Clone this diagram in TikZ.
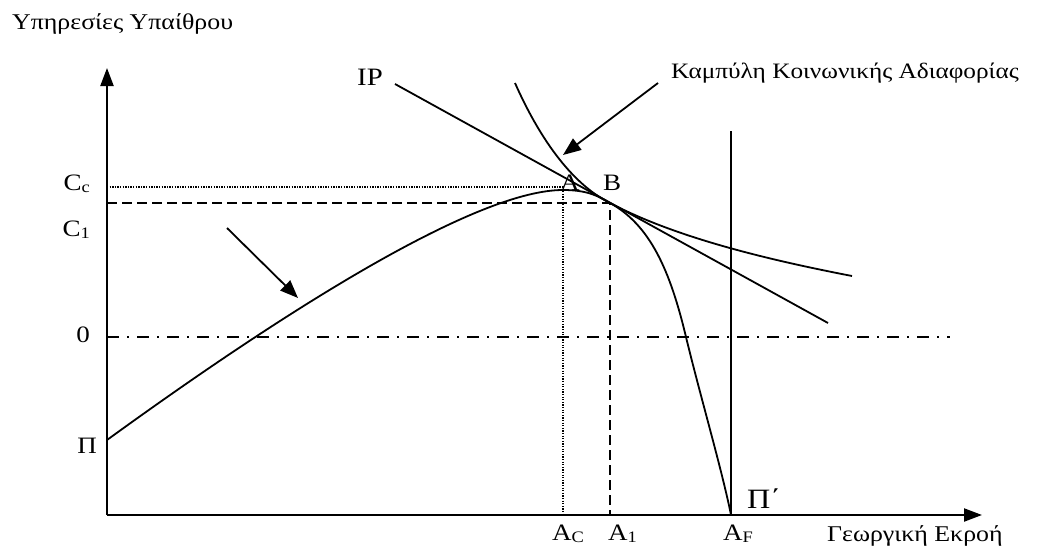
\documentclass[tikz,border=0pt]{standalone}
\usepackage{fontspec}
\setmainfont{Liberation Serif}[FakeStretch=1.15]
\usetikzlibrary{arrows.meta}
\newcommand{\sbs}[1]{\raisebox{-0.12em}{\fontsize{16}{16}\selectfont #1}}
\begin{document}
\begin{tikzpicture}[x=1pt,y=-1pt,
  curve/.style={line width=1.8pt},
  axis/.style={line width=2.2pt,-{Triangle[length=18pt,width=13pt]}},
  pointer/.style={line width=1.8pt,-{Triangle[length=18pt,width=14pt]}},
  lbl/.style={inner sep=0pt,font=\fontsize{23.5}{27}\selectfont},
  big/.style={inner sep=0pt,font=\fontsize{22.5}{26}\selectfont},
  dashdot/.style={line width=1.5pt,dash pattern=on 12pt off 8pt on 2pt off 8pt},
  dashln/.style={line width=1.6pt,dash pattern=on 10pt off 5pt},
  dotln/.style={line width=1.3pt,dash pattern=on 1.3pt off 1.3pt}]
\useasboundingbox (0,0) rectangle (1047,546);

% key points
\coordinate (O) at (107,515);
\coordinate (ytip) at (107,68);
\coordinate (xtip) at (982,515);
\coordinate (Pi) at (107,440);
\coordinate (Apt) at (563,190);
\coordinate (Bpt) at (610,203);
\coordinate (Zc) at (686,337);
\coordinate (AF) at (731,515);

% axes
\draw[axis] (O) -- (ytip);
\draw[axis] (O) -- (xtip);

% reference lines
\draw[dotln] (107,187) -- (563,187) -- (563,515);
\draw[dashln] (107,203) -- (Bpt) -- (610,515);
\draw[dashdot] (107,337) -- (950,337);

% vertical line at A_F
\draw[curve] (731,131) -- (AF);

% production possibility curve
\draw[curve] (Pi) .. controls (300,300) and (480,190) .. (Apt)
  .. controls (590,190) and (600,197.5) .. (Bpt)
  .. controls (650,225) and (670,270) .. (Zc)
  .. controls (700,395) and (722,470) .. (AF);

% IP line
\coordinate (IPs) at (395,84);
\coordinate (IPe) at (828,323);
\draw[curve] (IPs) -- (IPe);

% social indifference curve
\coordinate (ICs) at (515,83);
\coordinate (ICe) at (852,276);
\draw[curve] (ICs) .. controls (538,135) and (570,183) .. (Bpt)
  .. controls (680,240) and (780,262) .. (ICe);

% pointers
\coordinate (p1s) at (658,83);
\coordinate (p1e) at (563,155);
\draw[pointer] (p1s) -- (p1e);
\coordinate (p2s) at (227,228);
\coordinate (p2e) at (298,298);
\draw[pointer] (p2s) -- (p2e);

% texts
\node[big,anchor=base west] (ylab) at (12,29) {Υπηρεσίες Υπαίθρου};
\node[lbl,anchor=base west,font=\fontsize{25}{29}\selectfont] (iplab) at (357,85) {IP};
\node[big,anchor=base west,font=\fontsize{22}{26}\selectfont] (iclab) at (671,78) {Καμπύλη Κοινωνικής Αδιαφορίας};
\node[lbl,anchor=base east] (cc) at (90,190) {C\sbs{c}};
\node[lbl,anchor=base east] (c1) at (90,236) {C\sbs{1}};
\node[lbl,anchor=base east] (zero) at (90,342) {0};
\node[lbl,anchor=base east] (pil) at (97,453) {Π};
\node[lbl,anchor=base west] (alab) at (560,190) {A};
\node[lbl,anchor=base west] (blab) at (603,190) {B};
\node[lbl,anchor=base west] (ac) at (552,540) {A\sbs{C}};
\node[lbl,anchor=base west] (a1) at (608,540) {A\sbs{1}};
\node[lbl,anchor=base west] (af) at (723,540) {A\sbs{F}};
\node[lbl,anchor=base west,font=\fontsize{28}{32}\selectfont] (pip) at (747,508) {Π΄};
\node[big,anchor=base west] (xlab) at (827,541) {Γεωργική Εκροή};
\end{tikzpicture}
\end{document}
